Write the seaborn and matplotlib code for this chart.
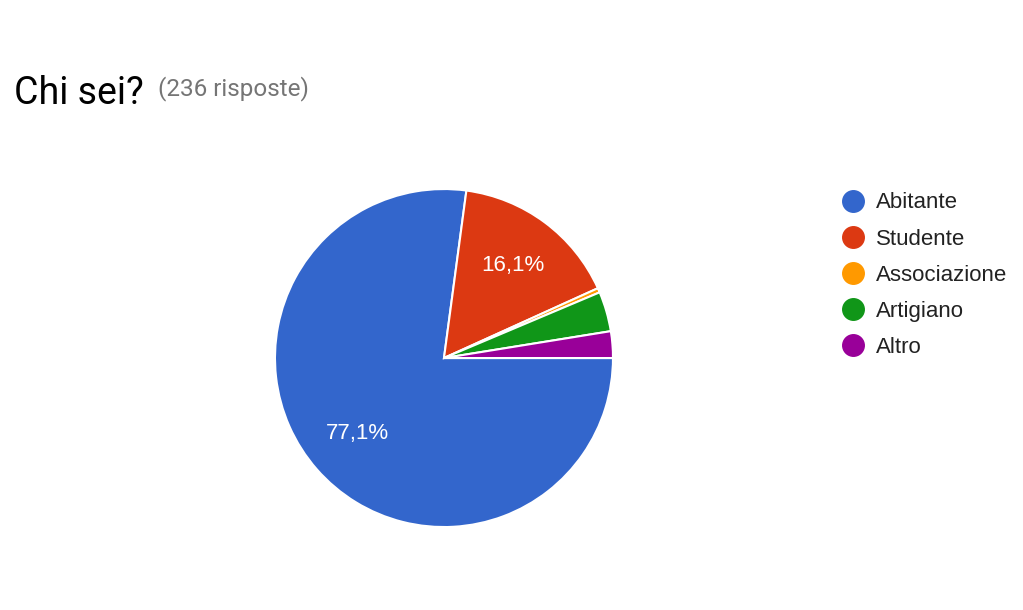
import matplotlib
matplotlib.use("Agg")
import matplotlib.pyplot as plt
from matplotlib.lines import Line2D
import seaborn as sns

categorie = ["Abitante", "Studente", "Associazione", "Artigiano", "Altro"]
risposte = [182, 38, 1, 9, 6]
colori = ["#3366cc", "#dc3912", "#ff9900", "#109618", "#990099"]

sns.set_theme(style="white")
plt.rcParams["font.family"] = ["Liberation Sans", "DejaVu Sans"]
palette = sns.color_palette(colori)

fig = plt.figure(figsize=(10.23, 6.10), dpi=100)
ax = fig.add_axes([0.2688, 0.136, 0.3304, 0.5541])


def etichetta(p):
    if p < 5:
        return ""
    return f"{p:.1f}%".replace(".", ",")


wedges, testi, pct = ax.pie(risposte, colors=palette, startangle=0, counterclock=False,
                            autopct=etichetta, pctdistance=0.68,
                            wedgeprops=dict(edgecolor="white", linewidth=1.5))
for t in pct:
    t.set_color("white")
    t.set_fontsize(16)
ax.set_xlim(-1, 1)
ax.set_ylim(-1, 1)
ax.set_aspect("equal")

fig.text(0.0137, 0.829, "Chi sei?", fontsize=27, family="Roboto", color="#000000", va="baseline")
fig.text(0.1545, 0.843, "(236 risposte)", fontsize=17.5, family="Roboto", color="#757575", va="baseline")

handles = [Line2D([], [], marker="o", linestyle="", markersize=15.5, color=c) for c in palette]
leg = fig.legend(handles, categorie, loc="upper left", bbox_to_anchor=(0.814, 0.699),
                 frameon=False, fontsize=16, labelspacing=0.68, handlelength=1.0,
                 handletextpad=0.55, borderaxespad=0)
for t in leg.get_texts():
    t.set_color("#222222")

fig.savefig("out.png", dpi=100)
